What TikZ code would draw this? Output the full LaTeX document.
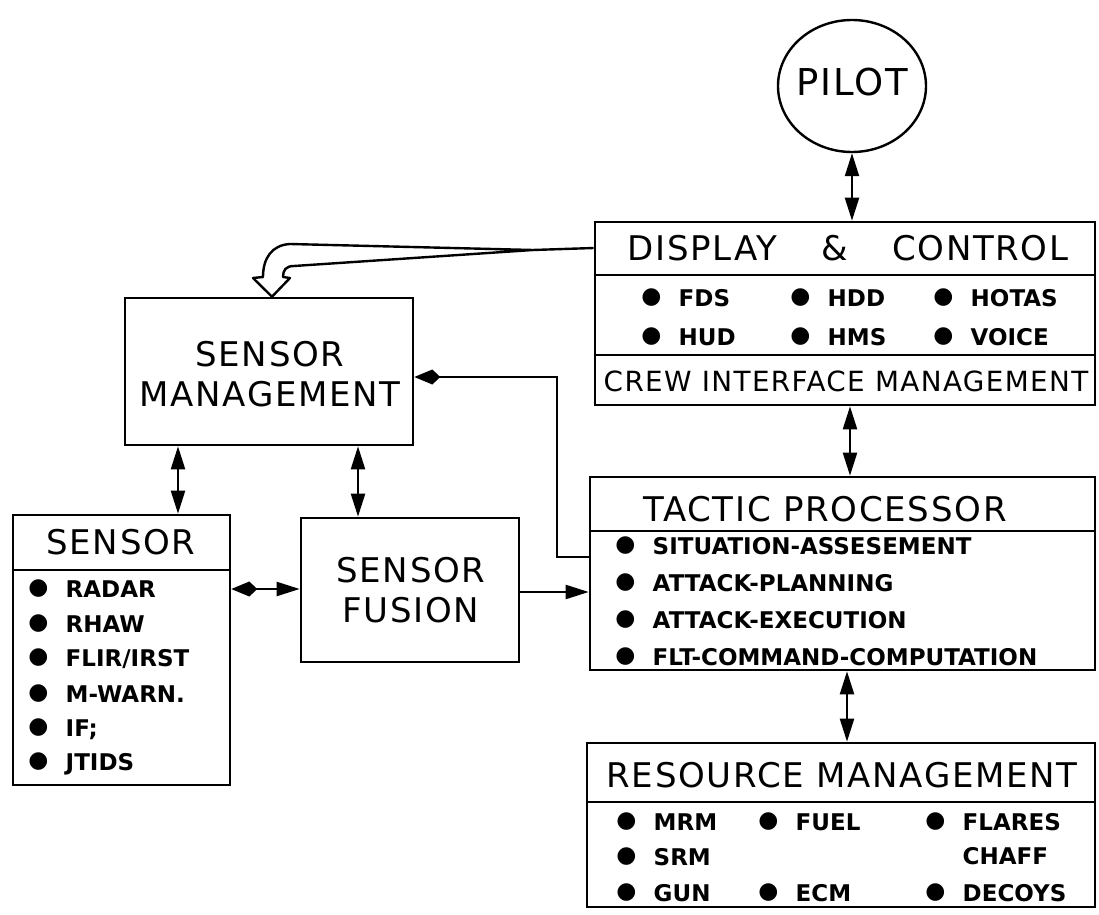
\documentclass[tikz,border=0pt]{standalone}
\usepackage{fontspec}
\setmainfont{DejaVu Sans}
\newfontfamily\ttlfont[LetterSpace=5]{DejaVu Sans}
\usetikzlibrary{arrows.meta,shapes.geometric,fit,calc}
\newcommand\bul{\raisebox{0.12em}{●}\hspace{0.75em}}
\newcommand\nobul{\phantom{●}\hspace{0.75em}}
\tikzset{
  box/.style={draw, line width=1.3pt, inner sep=0pt},
  sepline/.style={line width=1.2pt},
  ttl/.style={font=\ttlfont\fontsize{17}{20}\selectfont, inner sep=0pt},
  itm/.style={font=\fontsize{11.5}{13}\selectfont\bfseries, inner sep=0pt, anchor=west},
  con/.style={line width=1.1pt},
  tri/.tip={Triangle[length=11.5pt,width=7pt]},
  kt/.tip={Kite[length=13pt,width=7.5pt,inset=4pt]},
}
\begin{document}
\begin{tikzpicture}[x=0.5pt,y=-0.5pt]
\useasboundingbox (0,0) rectangle (1099,915);

% boxes
\node[draw, ellipse, line width=1.2pt, minimum width=74pt, minimum height=66pt, inner sep=0pt] (pilot) at (852,86) {};
\node[box, fit={(595,222)(1095,405)}] (dc) {};
\node[box, fit={(590,477)(1095,670)}] (tp) {};
\node[box, fit={(587,743)(1095,907)}] (rm) {};
\node[box, fit={(125,298)(413,445)}] (sm) {};
\node[box, fit={(13,515)(230,785)}] (sn) {};
\node[box, fit={(301,518)(519,662)}] (sf) {};

% separators
\draw[sepline] (dc.west |- 0,275) -- (dc.east |- 0,275);
\draw[sepline] (dc.west |- 0,355) -- (dc.east |- 0,355);
\draw[sepline] (tp.west |- 0,531) -- (tp.east |- 0,531);
\draw[sepline] (rm.west |- 0,802) -- (rm.east |- 0,802);
\draw[sepline] (sn.west |- 0,570) -- (sn.east |- 0,570);

% titles
\node[ttl] (pilott) at (852,82) {\fontsize{18.5}{20}\selectfont PILOT};
\node[ttl] (dct) at (848,248) {DISPLAY\hspace{1.3em}\&\hspace{1.3em}CONTROL};
\node[ttl] (crew) at (846,381) {\fontsize{13.9}{15}\selectfont CREW INTERFACE MANAGEMENT};
\node[ttl] (tpt) at (825,509) {TACTIC PROCESSOR};
\node[ttl] (rmt) at (842,775) {RESOURCE MANAGEMENT};
\node[ttl] (snt) at (121,542) {SENSOR};
\node[ttl, align=center] (smt) at (270,374) {\fontsize{17}{16.5}\selectfont SENSOR\\MANAGEMENT};
\node[ttl, align=center] (sft) at (411,590) {\fontsize{17}{18}\selectfont SENSOR\\FUSION};

% display items
\node[itm] (d1) at (641,298) {\bul FDS};
\node[itm] (d2) at (790,298) {\bul HDD};
\node[itm] (d3) at (933,298) {\bul HOTAS};
\node[itm] (d4) at (641,337) {\bul HUD};
\node[itm] (d5) at (790,337) {\bul HMS};
\node[itm] (d6) at (933,337) {\bul VOICE};

% tactic items
\node[itm] (t1) at (615,546) {\bul SITUATION-ASSESEMENT};
\node[itm] (t2) at (615,583) {\bul ATTACK-PLANNING};
\node[itm] (t3) at (615,620) {\bul ATTACK-EXECUTION};
\node[itm] (t4) at (615,657) {\bul FLT-COMMAND-COMPUTATION};

% resource items
\node[itm] (r1) at (616,822) {\bul MRM};
\node[itm] (r2) at (758,822) {\bul FUEL};
\node[itm] (r3) at (925,822) {\bul FLARES};
\node[itm] (r4) at (616,857) {\bul SRM};
\node[itm] (r5) at (925,857) {\nobul CHAFF};
\node[itm] (r6) at (616,893) {\bul GUN};
\node[itm] (r7) at (758,893) {\bul ECM};
\node[itm] (r8) at (925,893) {\bul DECOYS};

% sensor items
\node[itm] (s1) at (28,589) {\bul RADAR};
\node[itm] (s2) at (28,624) {\bul RHAW};
\node[itm] (s3) at (28,659) {\bul FLIR/IRST};
\node[itm] (s4) at (28,694) {\bul M-WARN.};
\node[itm] (s5) at (28,729) {\bul IF;};
\node[itm] (s6) at (28,764) {\bul JTIDS};

% connectors
\draw[con,{tri}-{tri}] (pilot.south) -- (pilot.south |- dc.north);
\draw[con,{tri}-{tri}] (dc.south -| 850,0) -- (tp.north -| 850,0);
\draw[con,{tri}-{tri}] (tp.south -| 847,0) -- (rm.north -| 847,0);
\draw[con,{tri}-{tri}] (sm.south -| 178,0) -- (sn.north -| 178,0);
\draw[con,{tri}-{tri}] (sm.south -| 358,0) -- (sf.north -| 358,0);
\draw[con,{kt}-{tri}] (sn.east |- 0,589) -- (sf.west |- 0,589);
\draw[con,-{tri}] (sf.east |- 0,592) -- (tp.west |- 0,592);
\draw[con,-{kt}] (tp.west |- 0,557) -| (557,377) -- (sm.east |- 0,377);

% hollow arrow from display & control to sensor management
\coordinate (ha0) at (dc.west |- 0,248);
\coordinate (hatip) at (sm.north -| 272,0);
\draw[line width=1.2pt] (ha0) -- (533,250);
\draw[line width=1.2pt, line join=round, fill=white] (533,250) -- (290,244)
  .. controls (272,245) and (263,258) .. (263,277) -- (253,278) -- (hatip)
  -- (290,278) -- (283,277) .. controls (283,270) and (286,266) .. (294,266) -- cycle;
\end{tikzpicture}
\end{document}
